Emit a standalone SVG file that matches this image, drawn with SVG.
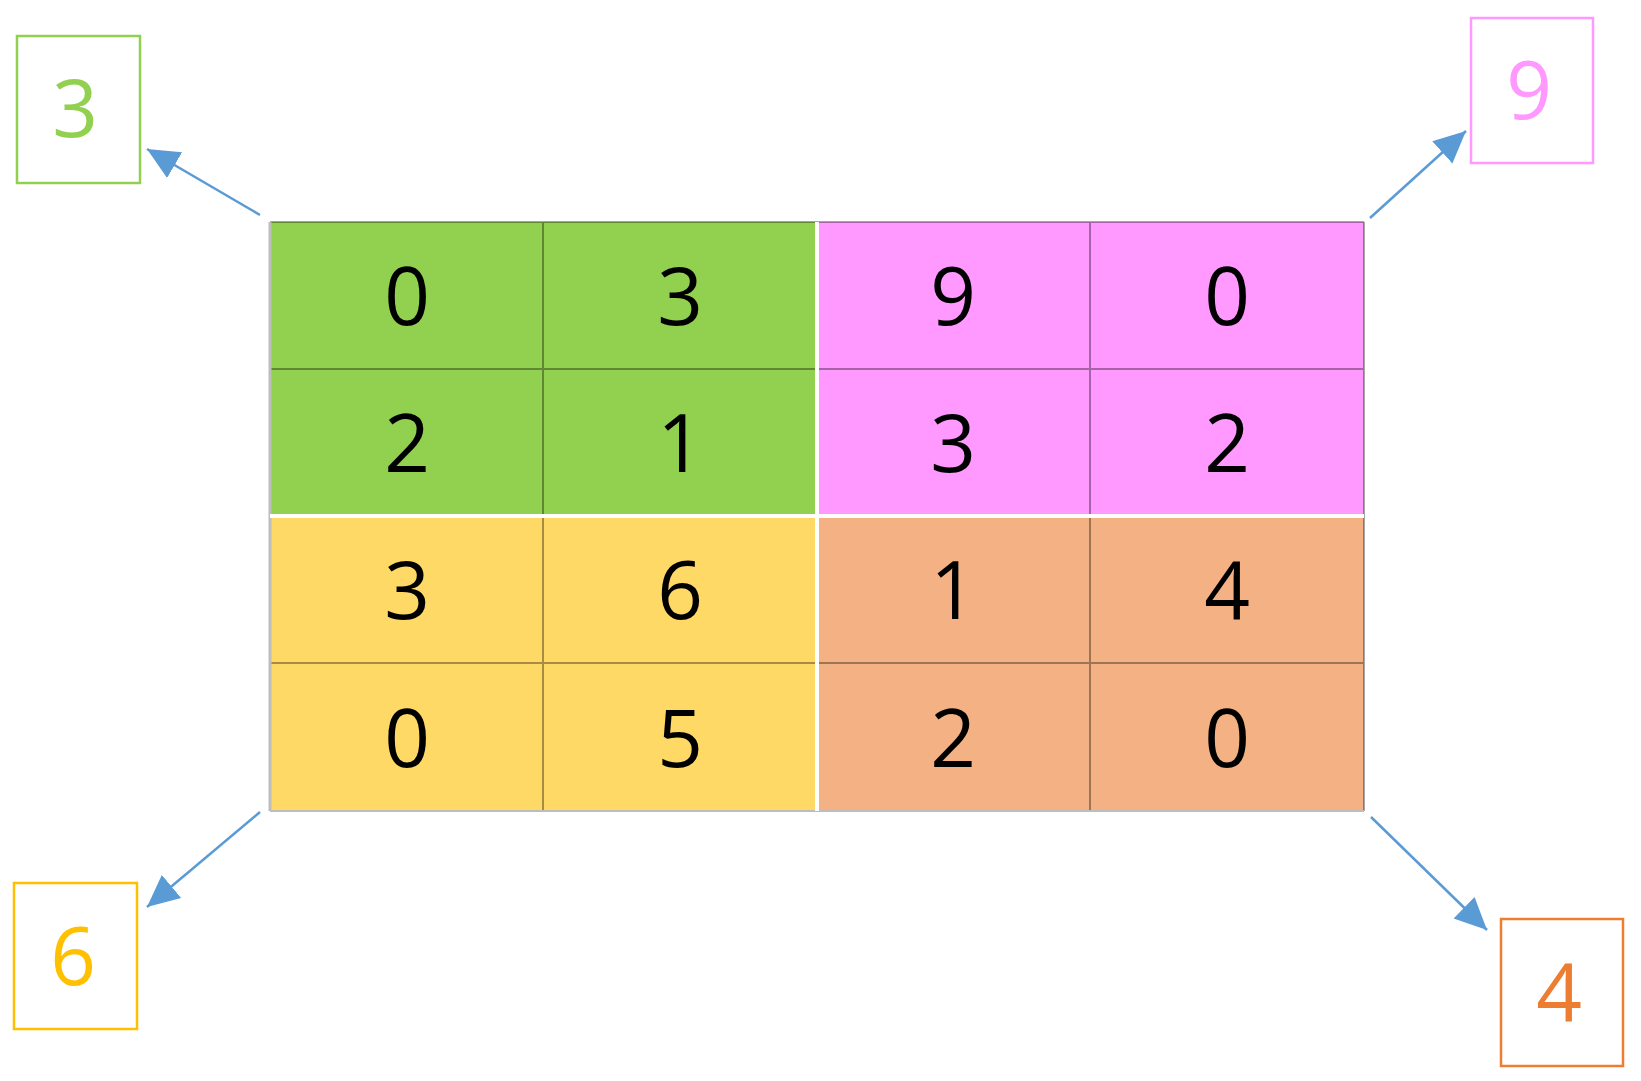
<svg xmlns="http://www.w3.org/2000/svg" width="1641" height="1081" viewBox="0 0 1641 1081">
<defs>
<style>
.num{font-family:"Open Sans","Liberation Sans",sans-serif;font-size:80px;text-anchor:middle;dominant-baseline:central;fill:#000}
.big{font-family:"Open Sans","Liberation Sans",sans-serif;font-size:80px;text-anchor:middle;dominant-baseline:central}
.box{fill:#fff;stroke-width:2.5}
.grid{stroke:#000;stroke-opacity:0.35;stroke-width:2;fill:none}
.sep{stroke:#fff;stroke-width:4}
.arr{stroke:#5B9BD5;stroke-width:2.5;fill:none;marker-end:url(#ah)}
</style>
<marker id="ah" markerUnits="userSpaceOnUse" markerWidth="34" markerHeight="32" refX="32" refY="15" orient="auto" viewBox="0 0 34 30">
<path d="M0,0 L32,15 L0,30 Z" fill="#5B9BD5"/>
</marker>
</defs>
<g id="grid">
<rect x="270" y="222" width="547" height="294" fill="#92D050"/>
<rect x="817" y="222" width="547" height="294" fill="#FF99FF"/>
<rect x="270" y="516" width="547" height="295" fill="#FFD966"/>
<rect x="817" y="516" width="547" height="295" fill="#F4B183"/>
<path class="grid" d="M270,222 H1364 M270,369 H1364 M270,663 H1364 M543,222 V811 M1090,222 V811 M1364,222 V811"/>
<line x1="270" y1="222" x2="270" y2="811" stroke="#bdbdbd" stroke-width="3"/>
<line x1="270" y1="811" x2="1364" y2="811" stroke="#bdbdbd" stroke-width="2"/>
<line class="sep" x1="817" y1="222" x2="817" y2="811"/>
<line class="sep" x1="270" y1="516" x2="1364" y2="516"/>
<text class="num" x="407" y="293">0</text>
<text class="num" x="680" y="293">3</text>
<text class="num" x="953" y="293">9</text>
<text class="num" x="1227" y="293">0</text>
<text class="num" x="407" y="440">2</text>
<text class="num" x="680" y="440">1</text>
<text class="num" x="953" y="440">3</text>
<text class="num" x="1227" y="440">2</text>
<text class="num" x="407" y="587">3</text>
<text class="num" x="680" y="587">6</text>
<text class="num" x="953" y="587">1</text>
<text class="num" x="1227" y="587">4</text>
<text class="num" x="407" y="735">0</text>
<text class="num" x="680" y="735">5</text>
<text class="num" x="953" y="735">2</text>
<text class="num" x="1227" y="735">0</text>
</g>
<g id="box-green">
<rect class="box" x="17" y="36" width="123" height="147" stroke="#92D050"/>
<text class="big" x="75" y="105" fill="#92D050">3</text>
</g>
<g id="box-pink">
<rect class="box" x="1471" y="18" width="122" height="145" stroke="#FF99FF"/>
<text class="big" x="1529" y="87" fill="#FF99FF">9</text>
</g>
<g id="box-yellow">
<rect class="box" x="14" y="883" width="123" height="146" stroke="#FFC000"/>
<text class="big" x="73" y="953" fill="#FFC000">6</text>
</g>
<g id="box-orange">
<rect class="box" x="1501" y="919" width="122" height="147" stroke="#ED7D31"/>
<text class="big" x="1559" y="989" fill="#ED7D31">4</text>
</g>
<g id="connectors">
<path class="arr" d="M260,215 L147,149"/>
<path class="arr" d="M1370,218 L1466,131"/>
<path class="arr" d="M260,812 L147,907"/>
<path class="arr" d="M1371,817 L1487,930"/>
</g>
</svg>
